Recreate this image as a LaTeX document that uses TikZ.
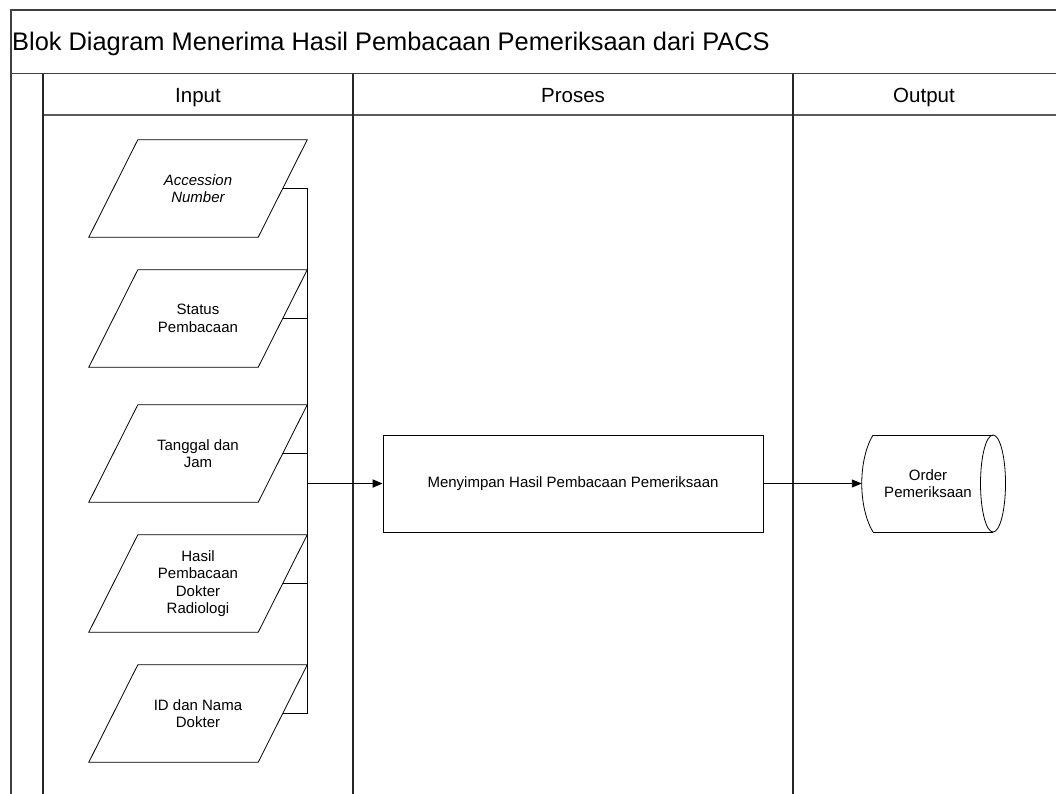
\documentclass[tikz,border=0pt]{standalone}
\usepackage{fontspec}
\setmainfont{Liberation Sans}
\usetikzlibrary{arrows.meta,calc}

\tikzset{
  frameline/.style={draw=black!75, line width=1.3pt},
  laneline/.style={draw=black!85, line width=1.2pt},
  shapeline/.style={draw=black, line width=0.8pt},
  inbox/.style={minimum width=218pt, minimum height=97pt, inner sep=0pt,
    align=center, font=\fontsize{15}{17.5}\selectfont},
  procbox/.style={shapeline, minimum width=380pt, minimum height=97pt,
    inner sep=0pt, align=center, font=\fontsize{15}{17.5}\selectfont},
  storetext/.style={inner sep=0pt, align=center, font=\fontsize{15}{17.5}\selectfont},
  storebox/.style={minimum width=144pt, minimum height=97pt, inner sep=0pt},
  header/.style={font=\fontsize{20.5}{24}\selectfont, anchor=base},
  flow/.style={draw=black, line width=0.9pt},
  mainflow/.style={draw=black, line width=1.7pt, -{Triangle[length=10pt,width=8pt]}},
  outflow/.style={draw=black, line width=0.9pt, -{Triangle[length=10pt,width=8pt]}},
}

% parallelogram (data) drawn over an invisible box node, slant 49pt
\newcommand{\datashape}[1]{%
  \draw[shapeline] ([xshift=49pt]#1.north west) -- (#1.north east)
    -- ([xshift=-49pt]#1.south east) -- (#1.south west) -- cycle;
  \coordinate (#1-out) at ([xshift=-24.5pt]#1.east);
}

\begin{document}
\begin{tikzpicture}[x=1pt,y=-1pt]
\useasboundingbox (0,0) rectangle (1056,793);

% swimlane frame
\draw[frameline] (11,795) -- (11,10) -- (1058,10);
\draw[frameline] (11,73.5) -- (1058,73.5);
\draw[draw=black!65, line width=1.2pt] (43,115) -- (1058,115);
\draw[laneline] (43,73.5) -- (43,795);
\draw[laneline] (353,73.5) -- (353,795);
\draw[laneline] (793,73.5) -- (793,795);

\node[anchor=base west, inner sep=0pt, font=\fontsize{25.4}{30}\selectfont] (title) at (12,50)
  {Blok Diagram Menerima Hasil Pembacaan Pemeriksaan dari PACS};
\node[header] (hin)  at (198,102) {Input};
\node[header] (hpro) at (573,102) {Proses};
\node[header] (hout) at (924,102) {Output};

% input data
\node[inbox] (acc) at (198,188.5) {\itshape Accession\\\itshape Number};
\node[inbox] (sta) at (198,318.5) {Status\\Pembacaan};
\node[inbox] (tgl) at (198,453.5) {Tanggal dan\\Jam};
\node[inbox] (has) at (198,583.5) {Hasil\\Pembacaan\\Dokter\\Radiologi};
\node[inbox] (idn) at (198,713.5) {ID dan Nama\\Dokter};
\datashape{acc}
\datashape{sta}
\datashape{tgl}
\datashape{has}
\datashape{idn}

% process
\node[procbox] (proc) at (573,483.5) {Menyimpan Hasil Pembacaan Pemeriksaan};

% output store
\node[storebox] (ord) at (934,483.5) {};
\node[storetext] (ordtxt) at (928,483.5) {Order\\Pemeriksaan};
\draw[shapeline] (873,435) -- (993,435);
\draw[shapeline] (873,532) -- (993,532);
\draw[shapeline] (873,435) .. controls (858,460) and (858,507) .. (873,532);
\draw[shapeline] (993,483.5) ellipse [x radius=12.5, y radius=48.5];

% connectors
\coordinate (jn) at (307,483.5);
\draw[flow] (acc-out) -| (jn);
\draw[flow] (sta-out) -| (jn);
\draw[flow] (tgl-out) -| (jn);
\draw[flow] (has-out) -| (jn);
\draw[flow] (idn-out) -| (jn);
\draw[mainflow] (jn) -- (proc.west);
\draw[outflow] (proc.east) -- (ord.west);
\end{tikzpicture}
\end{document}
